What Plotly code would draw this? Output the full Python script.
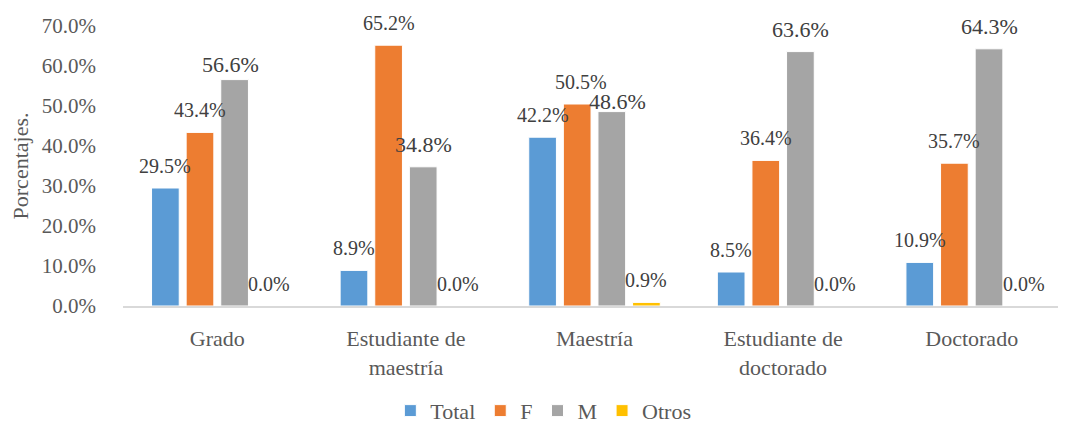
import plotly.graph_objects as go

# datos (porcentajes)
categorias = ["Grado", "Estudiante de<br>maestría", "Maestría",
              "Estudiante de<br>doctorado", "Doctorado"]
series = ["Total", "F", "M", "Otros"]
total = [29.5, 8.9, 42.2, 8.5, 10.9]
fem = [43.4, 65.2, 50.5, 36.4, 35.7]
masc = [56.6, 34.8, 48.6, 63.6, 64.3]
otros = [0.0, 0.0, 0.9, 0.0, 0.0]

colores = ["#5B9BD5", "#ED7D31", "#A5A5A5", "#FFC000"]
valores = [total, fem, masc, otros]

bargap = 0.266
fuente = "Liberation Serif"

fig = go.Figure()
for nombre, vals, col in zip(series, valores, colores):
    fig.add_trace(go.Bar(
        name=nombre,
        x=categorias,
        y=[v / 100 for v in vals],
        marker_color=col,
        marker_line=dict(color="white", width=1),
    ))

# etiquetas de datos (desplazamientos manuales como en el original)
ajustes = {(1, 2): (4, 22), (2, 0): (-4, 15), (2, 2): (6, 10)}
slot = (1 - bargap) / len(series)
for k, vals in enumerate(valores):
    off = -(1 - bargap) / 2 + (k + 0.5) * slot
    for i, v in enumerate(vals):
        dx, dy = ajustes.get((k, i), (0, 22))
        fig.add_annotation(
            x=i + off, y=v / 100, xref="x", yref="y",
            text=f"{v:.1f}%", showarrow=False,
            xshift=dx, yshift=dy,
            font=dict(family=fuente, size=22 if k == 2 else 20, color="#404040"),
        )

# la pagina deja 8 px de margen al cuerpo
fig.update_layout(
    width=1058, height=417,
    margin=dict(l=115, r=0, t=18, b=119, autoexpand=False),
    paper_bgcolor="white", plot_bgcolor="white",
    barmode="group", bargap=bargap, bargroupgap=0.2,
    font=dict(family=fuente, size=21, color="#595959"),
    showlegend=True,
    legend=dict(orientation="h", x=0.506, xref="container", xanchor="center",
                y=0.034, yref="container", yanchor="middle",
                font=dict(family=fuente, size=22, color="#595959"),
                itemwidth=30, tracegroupgap=0),
)
fig.update_xaxes(showline=True, linecolor="#D9D9D9", linewidth=1.5,
                 ticks="", ticklabelstandoff=12, showgrid=False,
                 tickangle=0, automargin=False,
                 tickfont=dict(family=fuente, size=22, color="#595959"))
fig.update_yaxes(range=[0, 0.7], dtick=0.1, tickformat=".1%", showgrid=False,
                 zeroline=False, showline=False, ticklabelstandoff=26,
                 automargin=False,
                 tickfont=dict(family=fuente, size=21, color="#595959"),
                 title=dict(text="Porcentajes.", standoff=8,
                            font=dict(family=fuente, size=22, color="#595959")))

fig.write_html("out.html")
